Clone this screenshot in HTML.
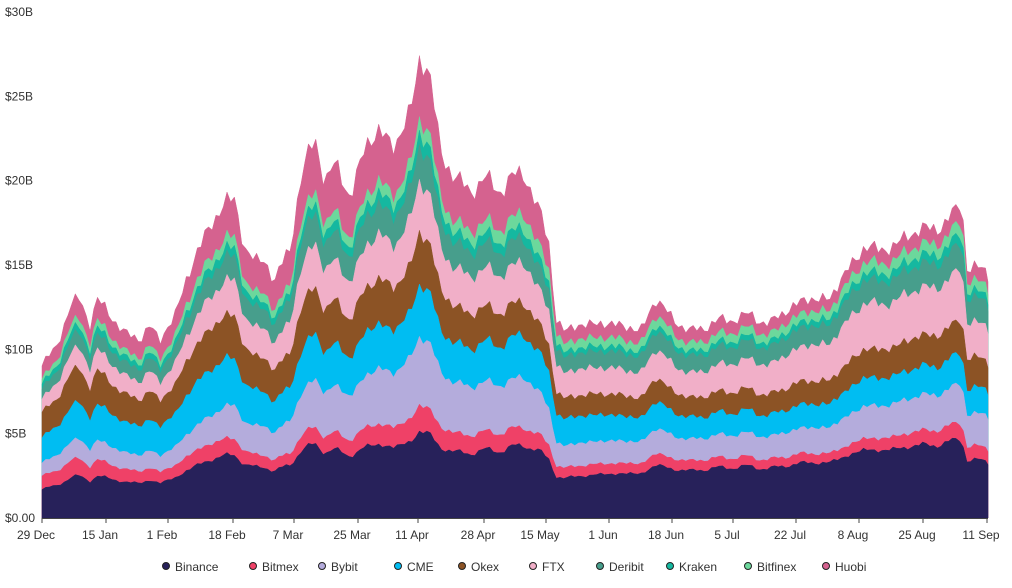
<!DOCTYPE html>
<html><head><meta charset="utf-8">
<style>
body{margin:0;background:#fff;font-family:"Liberation Sans",sans-serif;}
svg text{font-family:"Liberation Sans",sans-serif;font-size:12px;fill:#333;}
</style></head>
<body>
<svg id="c" width="1012" height="583" xmlns="http://www.w3.org/2000/svg">
<g id="areas"></g>
<line x1="42" y1="518.5" x2="988" y2="518.5" stroke="#444" stroke-width="1"/>
<g id="ylab"></g><g id="xlab"></g><g id="leg"></g>
</svg>
<script>
var NS="http://www.w3.org/2000/svg";
function el(t,a,p,txt){var e=document.createElementNS(NS,t);for(var k in a)e.setAttribute(k,a[k]);if(txt!=null)e.textContent=txt;p.appendChild(e);return e;}
var y0=518,pxB=84.33/5;
var yl=document.getElementById('ylab');
["$0.00","$5B","$10B","$15B","$20B","$25B","$30B"].forEach(function(s,i){el('text',{x:5,y:y0-i*5*pxB+4},yl,s);});
var xl=document.getElementById('xlab');
[["29 Dec",36],["15 Jan",100],["1 Feb",162],["18 Feb",227],["7 Mar",288],["25 Mar",352],["11 Apr",412],["28 Apr",478],["15 May",540],["1 Jun",603],["18 Jun",666],["5 Jul",727],["22 Jul",790],["8 Aug",853],["25 Aug",917],["11 Sep",981]].forEach(function(a){el('text',{x:a[1],y:539,'text-anchor':'middle'},xl,a[0]);el('line',{x1:a[1]+6,x2:a[1]+6,y1:518,y2:523,stroke:'#444'},xl);});
var names=["Binance","Bitmex","Bybit","CME","Okex","FTX","Deribit","Kraken","Bitfinex","Huobi"];
var cols=["#27215a","#ef4167","#b4acdc","#00bdf2","#8c5325","#f1afc8","#479e8c","#15b8a0","#6cd89c","#d5628f"];
var anch=[[42,[1.7,0.8,0.8,1.5,1.5,0.8,0.6,0.3,0.3,0.8]],
[200,[2.8,0.8,1.3,2.3,2.0,1.5,1.0,0.4,0.5,1.5]],
[300,[3.7,0.8,2.3,2.3,2.4,2.2,1.5,0.5,0.6,2.5]],
[420,[5,1.5,4,3,3,3,2,0.8,0.8,3.5]],
[540,[3.8,0.9,2.5,2.2,1.6,2.0,1.2,0.5,0.8,2.0]],
[556,[2.3,0.6,1.3,1.6,1.2,1.5,0.9,0.3,0.5,0.8]],
[700,[2.9,0.6,1.3,1.3,1.2,1.5,1.0,0.3,0.5,0.8]],
[850,[3.8,0.6,1.8,1.6,1.6,2.6,1.3,0.4,0.6,0.8]],
[961,[4.7,1.0,2.3,1.8,2.0,3.0,1.5,0.6,0.7,1.0]],
[966,[3.4,0.8,1.9,1.5,1.8,2.1,1.4,0.4,0.6,0.8]],
[988,[3.3,0.8,1.9,1.5,1.7,2.0,1.4,0.4,0.6,0.8]]];
var tot=[[42,9],[55,10],[70,12.5],[80,13],[90,11.5],[97,13],[110,12],[125,11],[140,10.5],[150,11.5],[160,10.5],[175,12],[185,14],[200,16],[210,17.5],[225,18.5],[235,19],[245,16],[255,15],[265,15.5],[275,14],[290,16],[300,20],[315,22.5],[325,20],[335,21],[350,19],[365,22],[380,23],[395,22],[410,24],[420,27.5],[430,26],[440,22],[455,20],[470,19.5],[485,20],[500,19.5],[510,20],[525,20.5],[540,18],[550,16],[555,12],[565,11],[580,11.5],[600,11.5],[620,11.5],[640,11],[655,13],[670,12],[690,11],[710,11.5],[730,11.8],[750,12],[770,11.5],[790,12.5],[810,13],[830,13],[850,15],[865,16],[880,16],[895,16],[910,17],[925,17],[945,17.5],[955,18],[962,19],[966,15],[975,14.8],[988,14.5]];
function interp(arr,x){for(var i=0;i<arr.length-1;i++){if(x<=arr[i+1][0]){var t=(x-arr[i][0])/(arr[i+1][0]-arr[i][0]);return [arr[i],arr[i+1],t];}}var n=arr.length;return [arr[n-2],arr[n-1],1];}
var xs=[];for(var x=42;x<=988;x+=3.7)xs.push(x);xs.push(988);
var stacks=xs.map(function(x,di){
 var r=interp(anch,x),v=r[0][1].map(function(a,i){return a+(r[1][1][i]-a)*r[2];});
 var q=interp(tot,x),T=q[0][1]+(q[1][1]-q[0][1])*q[2];
 T*=1+0.02*Math.sin(di*2.3)+0.015*Math.sin(di*0.9);
 var s=v.reduce(function(a,b){return a+b;},0);
 var c=0,out=[0];
 v.forEach(function(a,i){var w=1+0.03*Math.sin(di*0.8+i*2.1);c+=a*T/s*w;out.push(c);});
 return out;});
var g=document.getElementById('areas');
for(var L=9;L>=0;L--){
 var d="M";
 xs.forEach(function(x,i){d+=x.toFixed(1)+","+(y0-stacks[i][L+1]*pxB).toFixed(1)+" L";});
 d+="988,"+y0+" L42,"+y0+"Z";
 el('path',{d:d,fill:cols[L],stroke:cols[L],'stroke-width':0.5,'stroke-linejoin':'round'},g);
}
var lg=document.getElementById('leg');
var lx=[160,247,316,392,456,527,594,664,742,820];
names.forEach(function(n,i){var x=lx[i]+6;el('circle',{cx:x,cy:566,r:3.5,fill:cols[i],stroke:'#222','stroke-width':1},lg);el('text',{x:x+9,y:571},lg,n);});
</script>
</body></html>
